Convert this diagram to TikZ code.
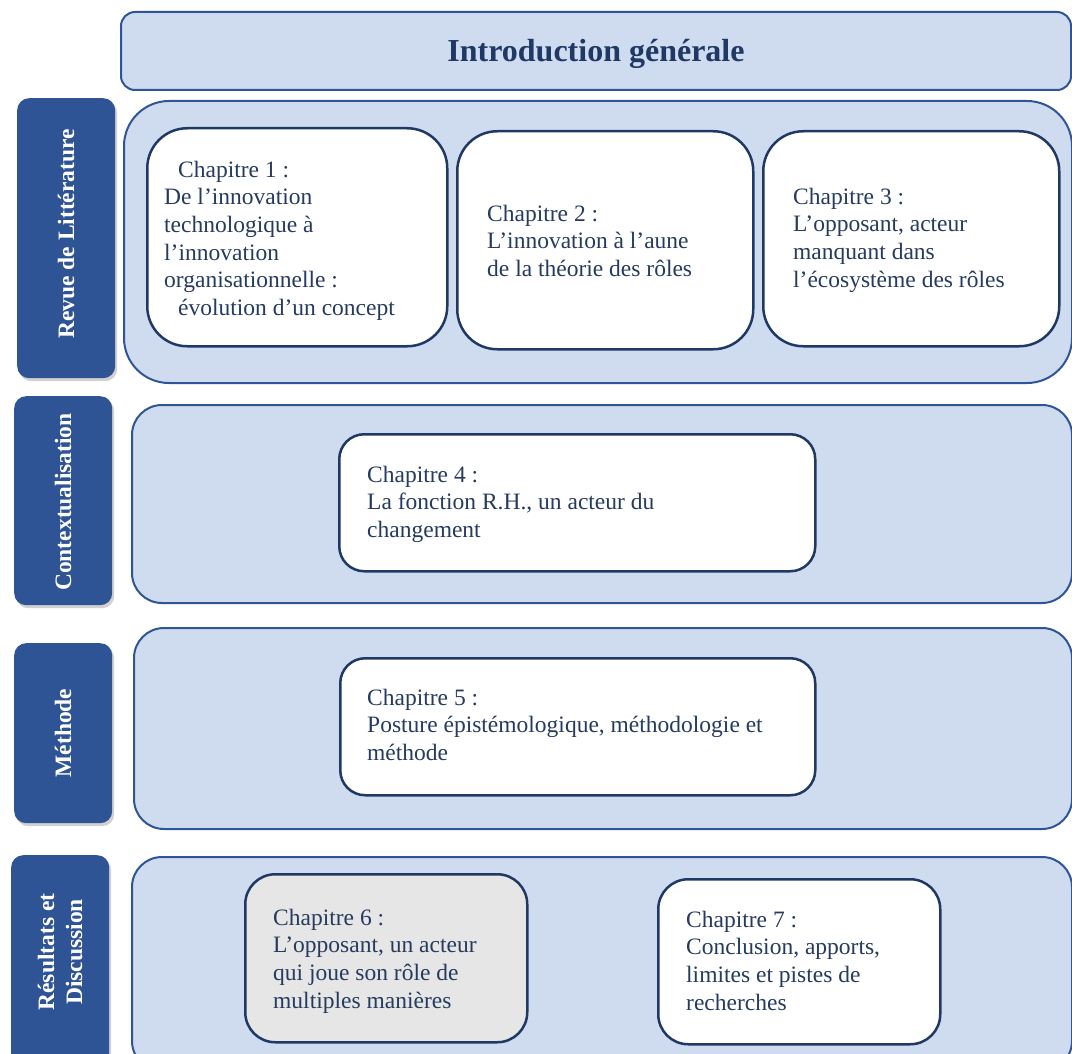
\documentclass[tikz,border=0pt]{standalone}
\usepackage{fontspec}
\setmainfont{Liberation Serif}
\usetikzlibrary{shadows}
\definecolor{panelfill}{HTML}{CFDCEF}
\definecolor{panelline}{HTML}{2F5597}
\definecolor{boxline}{HTML}{1F3864}
\definecolor{labelfill}{HTML}{2F5496}
\definecolor{txt}{HTML}{263B5E}
\definecolor{greyfill}{HTML}{E6E6E6}
\begin{document}
\begin{tikzpicture}[x=1pt,y=-1pt,
 box/.style={rectangle, anchor=north west, inner sep=0pt},
 panel/.style={box, draw=panelline, line width=2pt, fill=panelfill},
 chap/.style={box, draw=boxline, line width=2.5pt, fill=white},
 sidelabel/.style={box, fill=labelfill, rounded corners=12pt,
   drop shadow={shadow xshift=2pt, shadow yshift=-3pt, opacity=0.3, fill=black!60}},
 sidetext/.style={rotate=90, text=white, font=\bfseries\fontsize{23.5}{28}\selectfont, align=center, inner sep=0pt},
 chaptext/.style={anchor=north west, inner sep=0pt, align=left, text=txt, font=\fontsize{23.5}{27.6}\selectfont},
]
\useasboundingbox (0,0) rectangle (1072,1054);
\clip (0,0) rectangle (1072,1054);

% title
\node[panel, rounded corners=14pt, minimum width=950pt, minimum height=78pt] (title) at (120,11) {};
\node[anchor=base, inner sep=0pt, text=boxline, font=\bfseries\fontsize{32}{38}\selectfont] (titletext) at (596,62) {Introduction générale};

% rows
\node[panel, rounded corners=45pt, minimum width=948pt, minimum height=282pt] (row1) at (123,100) {};
\node[panel, rounded corners=30pt, minimum width=940pt, minimum height=198pt] (row2) at (131,404) {};
\node[panel, rounded corners=30pt, minimum width=938pt, minimum height=201pt] (row3) at (133,627) {};
\node[panel, rounded corners=30pt, minimum width=940pt, minimum height=214pt] (row4) at (131,856) {};

% side labels
\node[sidelabel, minimum width=98pt, minimum height=280pt] (lab1) at (17,98) {};
\node[sidelabel, minimum width=98pt, minimum height=209pt] (lab2) at (14,396) {};
\node[sidelabel, minimum width=98pt, minimum height=180pt] (lab3) at (14,643) {};
\node[sidelabel, minimum width=98pt, minimum height=215pt] (lab4) at (11,855) {};
\node[sidetext] (lab1t) at (66,234) {Revue de Littérature};
\node[sidetext] (lab2t) at (63,502) {Contextualisation};
\node[sidetext] (lab3t) at (63,733) {Méthode};
\node[sidetext] (lab4t) at (60,952) {Résultats et\\Discussion};

% chapter boxes
\node[chap, rounded corners=40pt, minimum width=300pt, minimum height=218pt] (c1) at (146,127) {};
\node[chap, rounded corners=40pt, minimum width=296pt, minimum height=218pt] (c2) at (456,130) {};
\node[chap, rounded corners=40pt, minimum width=296pt, minimum height=215pt] (c3) at (762,130) {};
\node[chap, rounded corners=25pt, minimum width=476pt, minimum height=137pt] (c4) at (338,433) {};
\node[chap, rounded corners=25pt, minimum width=475pt, minimum height=137pt] (c5) at (339,657) {};
\node[chap, rounded corners=30pt, minimum width=282pt, minimum height=168pt, fill=greyfill] (c6) at (244,873) {};
\node[chap, rounded corners=30pt, minimum width=282pt, minimum height=165pt] (c7) at (657,878) {};

% chapter texts
\node[chaptext] (c1t) at (164,157.7) {\strut\hspace*{14pt}Chapitre 1 :\\De l’innovation\\technologique à\\l’innovation\\organisationnelle :\\\hspace*{14pt}évolution d’un concept};
\node[chaptext] (c2t) at (487,201.7) {\strut Chapitre 2 :\\L’innovation à l’aune\\de la théorie des rôles};
\node[chaptext] (c3t) at (793,184.7) {\strut Chapitre 3 :\\L’opposant, acteur\\manquant dans\\l’écosystème des rôles};
\node[chaptext] (c4t) at (367,462.7) {\strut Chapitre 4 :\\La fonction R.H., un acteur du\\changement};
\node[chaptext] (c5t) at (367,685.7) {\strut Chapitre 5 :\\Posture épistémologique, méthodologie et\\méthode};
\node[chaptext] (c6t) at (273,905.7) {\strut Chapitre 6 :\\L’opposant, un acteur\\qui joue son rôle de\\multiples manières};
\node[chaptext] (c7t) at (686,907.7) {\strut Chapitre 7 :\\Conclusion, apports,\\limites et pistes de\\recherches};
\end{tikzpicture}
\end{document}
